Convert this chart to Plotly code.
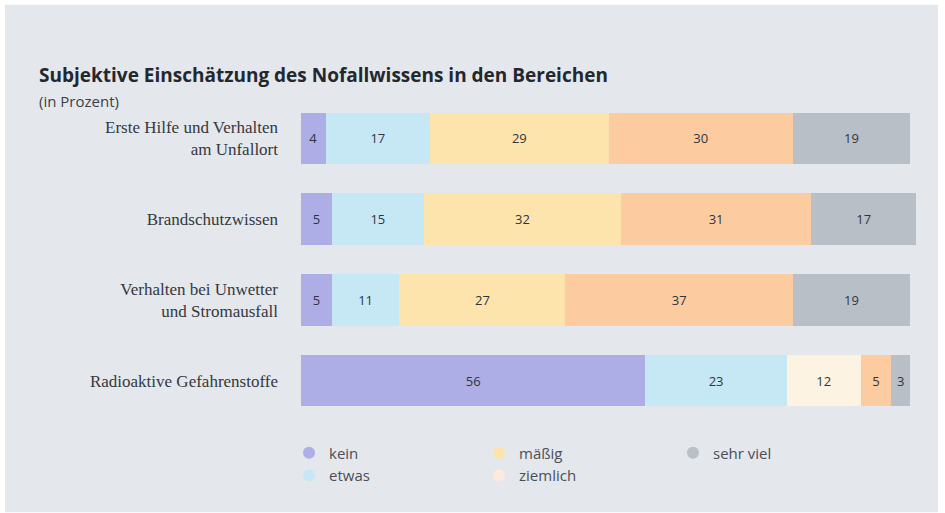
import plotly.graph_objects as go

categories = ["Erste Hilfe und Verhalten<br>am Unfallort", "Brandschutzwissen",
              "Verhalten bei Unwetter<br>und Stromausfall", "Radioaktive Gefahrenstoffe"]
levels = ["kein", "etwas", "mäßig", "ziemlich", "sehr viel"]
kein = [4, 5, 5, 56]
etwas = [17, 15, 11, 23]
maessig = [29, 32, 27, 12]
ziemlich = [30, 31, 37, 5]
sehr_viel = [19, 17, 19, 3]
series = [kein, etwas, maessig, ziemlich, sehr_viel]

PURPLE = "#adaee6"
BLUE = "#c6e7f4"
YELLOW = "#fde4ad"
ORANGE = "#fdcba0"
GREY = "#b9bfc7"
CREAM = "#fdf3e2"

bar_colors = [
    [PURPLE] * 4,
    [BLUE] * 4,
    [YELLOW, YELLOW, YELLOW, CREAM],
    [ORANGE] * 4,
    [GREY] * 4,
]
legend_colors = [PURPLE, BLUE, YELLOW, "#fde9df", GREY]
legend_groups = ["legend", "legend", "legend2", "legend2", "legend3"]

W, H = 945, 513
L, R, T, B = 301, 29, 97.5, 91.5
pw, ph = W - L - R, H - T - B

def px_x(px):
    return (px - L) / pw

def px_y(py):
    return 1 - (py - T) / ph

fig = go.Figure()
for name, vals, cols in zip(levels, series, bar_colors):
    fig.add_trace(go.Bar(
        y=categories, x=vals, orientation="h", name=name,
        marker=dict(color=cols, line=dict(width=0)),
        text=[str(v) for v in vals], textposition="inside", insidetextanchor="middle",
        textfont=dict(family="Open Sans", size=13, color="#30353d"),
        showlegend=False, hoverinfo="x+name",
    ))

for name, col, lg in zip(levels, legend_colors, legend_groups):
    fig.add_trace(go.Scatter(
        x=[None], y=[None], mode="markers", name=name,
        marker=dict(symbol="circle", size=12, color=col),
        legend=lg, showlegend=True,
    ))

leg_common = dict(orientation="v", xanchor="left", yanchor="top", y=px_y(437),
                  traceorder="normal", tracegroupgap=0, itemsizing="constant",
                  font=dict(family="Open Sans", size=15, color="#4a4f57"),
                  bgcolor="rgba(0,0,0,0)")

fig.update_layout(
    width=W, height=H,
    margin=dict(l=L, r=R, t=T, b=B),
    barmode="stack", bargap=0.36,
    paper_bgcolor="white", plot_bgcolor="rgba(0,0,0,0)",
    font=dict(family="Open Sans", color="#3a3f47"),
    uniformtext=dict(minsize=9, mode="show"),
    xaxis=dict(range=[0, 100], visible=False, fixedrange=True),
    yaxis=dict(categoryorder="array", categoryarray=categories, autorange="reversed",
               showgrid=False, zeroline=False, showline=False, ticks="",
               ticklabelstandoff=22, fixedrange=True,
               tickfont=dict(family="Liberation Serif", size=17, color="#35383d")),
    showlegend=True,
    legend=dict(x=px_x(289), **leg_common),
    legend2=dict(x=px_x(479), **leg_common),
    legend3=dict(x=px_x(673), **leg_common),
    shapes=[dict(type="rect", xref="paper", yref="paper", layer="below",
                 x0=px_x(5), x1=px_x(938), y0=px_y(513), y1=px_y(4),
                 fillcolor="#e4e7ec", line=dict(width=0))],
    annotations=[
        dict(text="<b>Subjektive Einschätzung des Nofallwissens in den Bereichen</b>",
             xref="paper", yref="paper", x=px_x(37), y=px_y(74), xanchor="left", yanchor="middle",
             showarrow=False, font=dict(family="Open Sans", size=19, color="#23272e")),
        dict(text="(in Prozent)", xref="paper", yref="paper", x=px_x(37), y=px_y(101),
             xanchor="left", yanchor="middle", showarrow=False,
             font=dict(family="Open Sans", size=15, color="#3a3f47")),
    ],
)

fig.write_html("out.html", config={"displayModeBar": False},
               post_script="document.body.style.margin='0';")
